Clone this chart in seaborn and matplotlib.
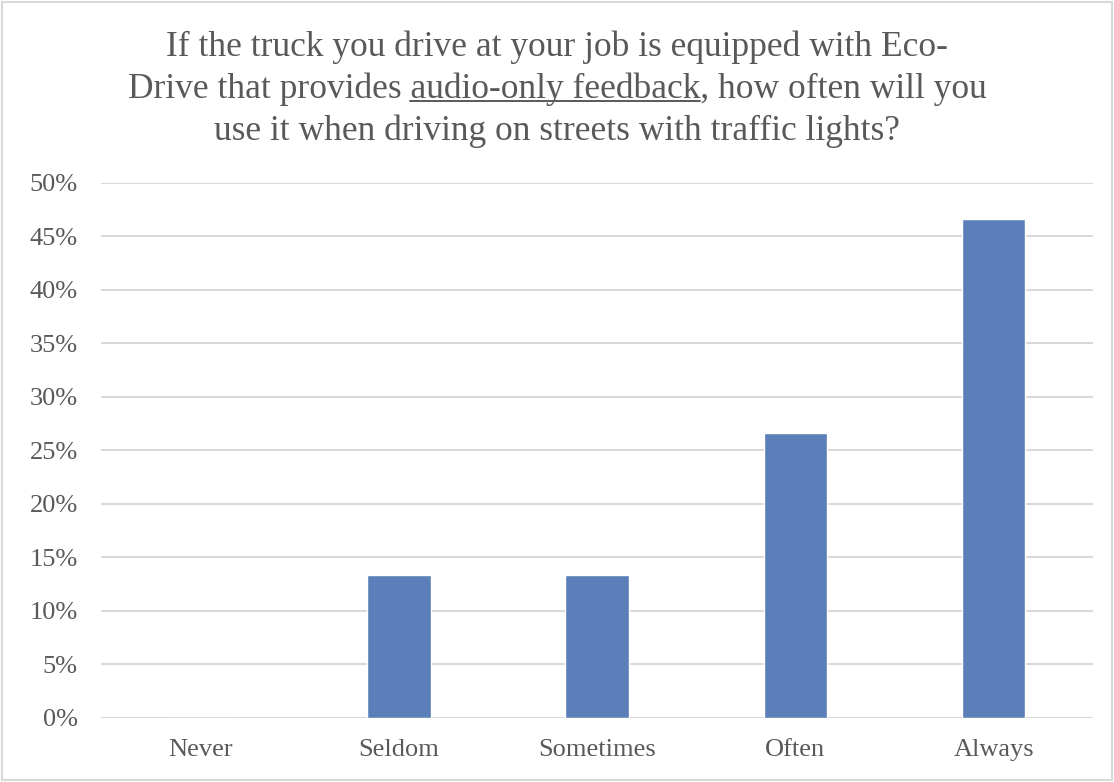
import seaborn as sns
import pandas as pd
from matplotlib import pyplot as plt
from matplotlib.lines import Line2D
from matplotlib.patches import Rectangle

# answers and share of respondents
answers = ['Never', 'Seldom', 'Sometimes', 'Often', 'Always']
shares = [0.0, 13.33, 13.33, 26.67, 46.67]
yticks = [0, 5, 10, 15, 20, 25, 30, 35, 40, 45, 50]
ytick_labels = ['%d%%' % t for t in yticks]

title_lines = ['If the truck you drive at your job is equipped with Eco-',
               ['Drive that provides ', 'audio-only feedback', ', how often will you'],
               'use it when driving on streets with traffic lights?']

text_color = '#595959'
bar_color = '#5b7fb8'
grid_color = '#d9d9d9'
serif = ['Liberation Serif', 'DejaVu Serif']

sns.set_theme(style='white')
plt.rcParams['font.family'] = serif

df = pd.DataFrame({'answer': answers, 'share': shares})

fig = plt.figure(figsize=(11.14, 7.82), dpi=100)
ax = fig.add_axes([0.091, 0.082, 0.890, 0.684])

sns.barplot(data=df, x='answer', y='share', color=bar_color, width=0.32,
            saturation=1, ax=ax, zorder=3)

ax.set_ylim(0, 50)
ax.set_xlim(-0.5, len(answers) - 0.5)
ax.set_yticks(yticks)
ax.set_yticklabels(ytick_labels)
ax.set_xlabel('')
ax.set_ylabel('')
ax.tick_params(axis='y', length=0, pad=17, labelsize=19, labelcolor=text_color)
ax.tick_params(axis='x', length=0, pad=15, labelsize=19, labelcolor=text_color)
ax.yaxis.grid(True, color=grid_color, linewidth=1.5, zorder=0)
ax.set_axisbelow(True)
for s in ax.spines.values():
    s.set_visible(False)

# title, drawn line by line so that part of line 2 can be underlined
fs = 25.5
ys = [0.940, 0.886, 0.832]
fig.text(0.5, ys[0], title_lines[0], ha='center', va='center', fontsize=fs, color=text_color)
fig.text(0.5, ys[2], title_lines[2], ha='center', va='center', fontsize=fs, color=text_color)
full = ''.join(title_lines[1])
t_full = fig.text(0.5, ys[1], full, ha='center', va='center', fontsize=fs, color=text_color)

fig.canvas.draw()
r = fig.canvas.get_renderer()
W, H = fig.bbox.width, fig.bbox.height
bb_full = t_full.get_window_extent(r)
tmp1 = fig.text(0, 0, title_lines[1][0] + 'x', fontsize=fs)
tmpx = fig.text(0, 0, 'x', fontsize=fs)
tmp2 = fig.text(0, 0, title_lines[1][0] + title_lines[1][1], fontsize=fs)
w_pre = tmp1.get_window_extent(r).width - tmpx.get_window_extent(r).width
w_end = tmp2.get_window_extent(r).width
for t in (tmp1, tmpx, tmp2):
    t.remove()
x0 = (bb_full.x0 + w_pre) / W
x1 = (bb_full.x0 + w_end) / W
yu = (bb_full.y0 + 5) / H
fig.add_artist(Line2D([x0, x1], [yu, yu], transform=fig.transFigure,
                      color=text_color, linewidth=1.4))

# light frame around the chart
fig.patches.append(Rectangle((0.002, 0.002), 0.996, 0.996, transform=fig.transFigure,
                             fill=False, edgecolor=grid_color, linewidth=1.5))

fig.savefig('out.png', dpi=100)
